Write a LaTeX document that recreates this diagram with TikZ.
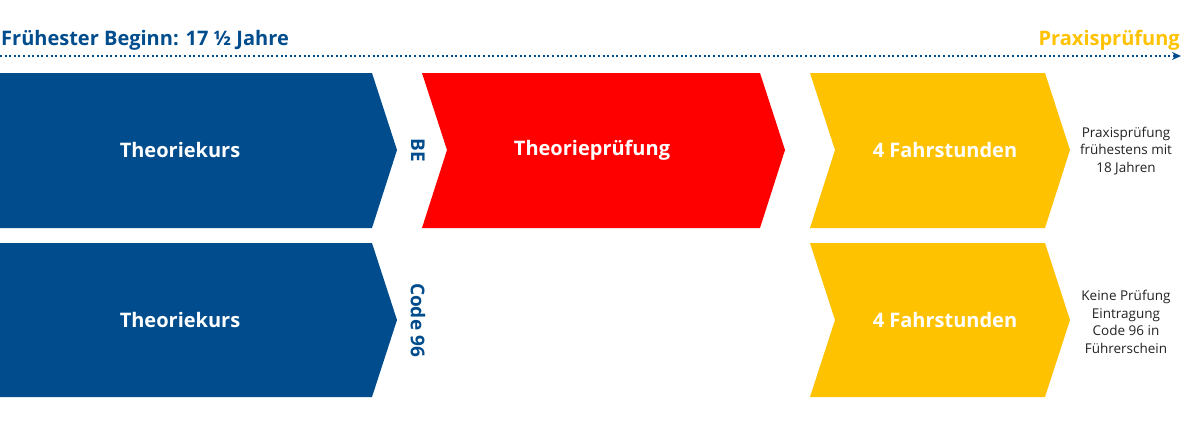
\documentclass[tikz,border=0pt]{standalone}
\usepackage{fontspec}
\setmainfont{Open Sans}
\usetikzlibrary{arrows.meta}
\definecolor{dblue}{HTML}{004C8C}
\definecolor{bred}{HTML}{FF0000}
\definecolor{byel}{HTML}{FFC200}
\definecolor{txtgray}{HTML}{222222}
\tikzset{
  boxlabel/.style={text=white,font=\bfseries\fontsize{20}{24}\selectfont},
  sidelabel/.style={text=dblue,font=\bfseries\fontsize{19}{23}\selectfont,rotate=-90},
  toplabel/.style={inner sep=0pt,font=\bfseries\fontsize{20}{24}\selectfont},
  note/.style={text=txtgray,align=center,font=\fontsize{13.5}{17.5}\selectfont},
}
\begin{document}
\begin{tikzpicture}[x=1pt,y=-1pt]
\useasboundingbox (0,0) rectangle (1200,434);
% timeline
\node[toplabel,anchor=base west,text=dblue] (start) at (1,45) {Frühester Beginn: 17 ½ Jahre};
\node[toplabel,anchor=base east,text=byel] (end) at (1180,45) {Praxisprüfung};
\coordinate (tl0) at (0,56);
\coordinate (tl1) at (1181,56);
\draw[dblue,line width=2pt,dash pattern=on 2pt off 2.6pt,-{Stealth[length=9pt,width=8pt]}] (tl0) -- (tl1);
% row 1
\fill[dblue] (0,73) -- (372,73) -- (397,150) -- (372,228) -- (0,228) -- cycle;
\fill[bred] (422,73) -- (760,73) -- (785,150) -- (760,228) -- (422,228) -- (447,150) -- cycle;
\fill[byel] (810,73) -- (1045,73) -- (1070,150) -- (1045,228) -- (810,228) -- (835,150) -- cycle;
\node[boxlabel] (t1) at (180,150) {Theoriekurs};
\node[sidelabel] (be) at (418,150) {BE};
\node[boxlabel] (tp) at (592,150) {Theorieprüfung};
\node[boxlabel] (f1) at (945,150) {4 Fahrstunden};
\node[note] (n1) at (1126,151) {Praxisprüfung\\frühestens mit\\18 Jahren};
% row 2
\fill[dblue] (0,243) -- (372,243) -- (397,320) -- (372,397) -- (0,397) -- cycle;
\fill[byel] (810,243) -- (1045,243) -- (1070,320) -- (1045,397) -- (810,397) -- (835,320) -- cycle;
\node[boxlabel] (t2) at (180,320) {Theoriekurs};
\node[sidelabel] (c96) at (418,320) {Code 96};
\node[boxlabel] (f2) at (945,320) {4 Fahrstunden};
\node[note] (n2) at (1126,322) {Keine Prüfung\\Eintragung\\Code 96 in\\Führerschein};
\end{tikzpicture}
\end{document}
